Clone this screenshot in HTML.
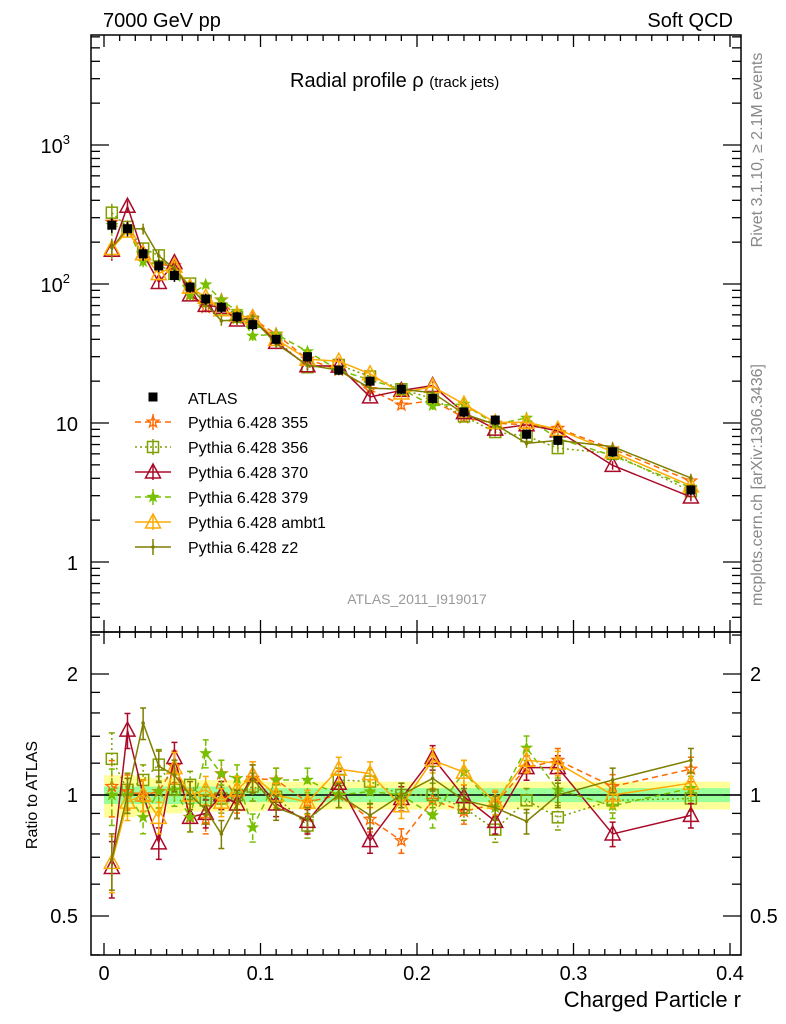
<!DOCTYPE html>
<html><head><meta charset="utf-8"><style>
html,body{margin:0;padding:0;background:#fff;}
svg{display:block;font-family:"Liberation Sans",sans-serif;}
</style></head><body>
<svg id="chart" width="786" height="1024" viewBox="0 0 786 1024" xmlns="http://www.w3.org/2000/svg"></svg>
<script>
const rValues=[0.005,0.015,0.025,0.035,0.045,0.055,0.065,0.075,0.085,0.095,0.11,0.13,0.15,0.17,0.19,0.21,0.23,0.25,0.27,0.29,0.325,0.375];
const atlasValues=[265,250,165,135,115,95,78,68,58,51,40,30,24,20,17.5,15,12,10.5,8.3,7.5,6.2,3.3];
const atlasStatErr=[0.05,0.05,0.05,0.05,0.05,0.05,0.05,0.05,0.04,0.04,0.04,0.04,0.04,0.04,0.04,0.04,0.04,0.04,0.04,0.04,0.04,0.04];
const atlasTotErr=[0.12,0.12,0.11,0.1,0.1,0.09,0.09,0.09,0.09,0.09,0.08,0.08,0.08,0.08,0.08,0.08,0.08,0.08,0.08,0.08,0.08,0.08];
const ratio355=[1.05,1.02,1.0,1.02,1.18,0.88,0.87,1.13,0.98,1.1,1.09,0.96,1.0,0.87,0.77,0.97,0.91,0.95,1.17,1.22,1.05,1.16];
const ratio356=[1.23,1.03,1.09,1.19,1.03,1.06,0.97,0.98,1.0,1.05,0.99,0.84,1.09,1.08,1.0,1.0,0.93,0.82,0.97,0.88,0.97,0.98];
const ratio370=[0.66,1.45,1.0,0.76,1.24,0.88,0.9,1.0,0.95,1.12,0.95,0.86,1.07,0.77,0.98,1.24,0.99,0.86,1.17,1.17,0.8,0.89];
const ratio379=[1.0,1.0,0.88,1.02,1.03,0.88,1.27,1.13,1.1,0.83,1.09,1.09,1.0,1.02,1.0,0.89,1.14,0.93,1.31,1.03,0.94,1.04];
const ratioAmbt1=[0.68,0.96,1.0,0.88,1.17,1.0,1.03,0.96,1.03,1.12,1.0,0.96,1.16,1.13,0.94,1.22,1.14,0.96,1.22,1.2,1.0,1.07];
const ratioZ2=[0.69,1.0,1.51,1.18,1.12,1.0,0.92,0.8,0.95,1.1,0.93,0.87,1.0,0.89,1.0,1.1,0.97,0.93,0.86,1.0,1.09,1.22];
const mcRelErr=[0.16,0.1,0.09,0.09,0.09,0.08,0.08,0.08,0.08,0.08,0.07,0.07,0.07,0.07,0.07,0.07,0.07,0.07,0.07,0.07,0.07,0.07];
const seriesNames=["Pythia 6.428 355","Pythia 6.428 356","Pythia 6.428 370","Pythia 6.428 379","Pythia 6.428 ambt1","Pythia 6.428 z2"];
const xTicks=[0,0.1,0.2,0.3,0.4];
const xTickLabels=["0","0.1","0.2","0.3","0.4"];
const yTickExps=[0,1,2,3];
const ratioTicks=[0.5,1,2];

const NS="http://www.w3.org/2000/svg";
const svg=document.getElementById('chart');
const L=91,R=741,T=35,MB=632,RB=955;
function X(v){return 104+v*1565;}
function YM(v){return 562-Math.log10(v)*139;}
function YR(v){return 795-Math.log2(v)*121;}
function el(tag,attrs,parent){const e=document.createElementNS(NS,tag);for(const k in attrs)e.setAttribute(k,attrs[k]);(parent||svg).appendChild(e);return e;}
function txt(x,y,s,size,anchor,fill,parent){const t=el('text',{x:x,y:y,'font-size':size,'text-anchor':anchor||'start',fill:fill||'#000'},parent);t.textContent=s;return t;}

const styles=[
 {c:'#ff6a00',dash:'6,4',m:'star',fill:'none',r:6},
 {c:'#7f9f00',dash:'2,3',m:'square',fill:'none'},
 {c:'#aa0a28',dash:'',m:'tri',fill:'none'},
 {c:'#77c000',dash:'6,4',m:'star',fill:'#77c000',r:5},
 {c:'#ffaa00',dash:'',m:'tri',fill:'none'},
 {c:'#7f7f00',dash:'',m:'dot',fill:'#7f7f00'}];
const ratios=[ratio355,ratio356,ratio370,ratio379,ratioAmbt1,ratioZ2];

function marker(g,type,x,y,st){
  if(type==='star'){let p=[];const R0=st.r||6;for(let i=0;i<10;i++){const a=-Math.PI/2+i*Math.PI/5,r=i%2?R0*0.42:R0;p.push((x+r*Math.cos(a)).toFixed(1)+','+(y+r*Math.sin(a)).toFixed(1));}
    el('polygon',{points:p.join(' '),fill:st.fill,stroke:st.c,'stroke-width':1.3},g);}
  else if(type==='square') el('rect',{x:x-5.5,y:y-5.5,width:11,height:11,fill:'none',stroke:st.c,'stroke-width':1.5},g);
  else if(type==='tri') el('polygon',{points:`${x},${y-8} ${x-7.5},${y+6} ${x+7.5},${y+6}`,fill:'none',stroke:st.c,'stroke-width':1.5},g);
  else if(type==='dot') el('circle',{cx:x,cy:y,r:1.8,fill:st.c},g);
  else if(type==='atlas') el('rect',{x:x-4.5,y:y-4.5,width:9,height:9,fill:'#000'},g);
}

const defs=el('defs',{});
const cm=el('clipPath',{id:'cm'},defs);el('rect',{x:L,y:T,width:R-L,height:MB-T},cm);
const cr=el('clipPath',{id:'cr'},defs);el('rect',{x:L,y:MB,width:R-L,height:RB-MB},cr);

const bands=el('g',{'clip-path':'url(#cr)'});
function bandPath(err,col){let top=[],bot=[];rValues.forEach((r,i)=>{const x0=i===0?X(0):X((rValues[i-1]+r)/2),x1=i===rValues.length-1?X(0.4):X((r+rValues[i+1])/2);
  top.push(`${x0},${YR(1+err[i])} ${x1},${YR(1+err[i])}`);bot.unshift(`${x1},${YR(1-err[i])} ${x0},${YR(1-err[i])}`);});
  el('polygon',{points:top.join(' ')+' '+bot.join(' '),fill:col},bands);}
bandPath(atlasTotErr,'#ffff99');bandPath(atlasStatErr,'#99ff99');
el('line',{x1:L,x2:R,y1:YR(1),y2:YR(1),stroke:'#000','stroke-width':1.5,});

ratios.forEach((rat,si)=>{
  const st=styles[si];
  const gm=el('g',{'clip-path':'url(#cm)'});
  
  const gr=el('g',{'clip-path':'url(#cr)'});
  
  const pm=rValues.map((r,i)=>X(r)+','+YM(atlasValues[i]*rat[i])).join(' ');
  const pr=rValues.map((r,i)=>X(r)+','+YR(rat[i])).join(' ');
  el('polyline',{points:pm,fill:'none',stroke:st.c,'stroke-width':1.5,'stroke-dasharray':st.dash},gm);
  el('polyline',{points:pr,fill:'none',stroke:st.c,'stroke-width':1.5,'stroke-dasharray':st.dash},gr);
  rValues.forEach((r,i)=>{
    const v=atlasValues[i]*rat[i],e=mcRelErr[i],x=X(r);
    el('line',{x1:x,x2:x,y1:YM(v*(1+e)),y2:YM(v*(1-e)),stroke:st.c,'stroke-width':1.5},gm);
    el('line',{x1:x,x2:x,y1:YR(rat[i]*(1+e)),y2:YR(rat[i]*(1-e)),stroke:st.c,'stroke-width':1.5,'stroke-dasharray':st.dash},gr);
    [[YR(rat[i]*(1+e))],[YR(rat[i]*(1-e))]].forEach(y=>el('line',{x1:x-3,x2:x+3,y1:y,y2:y,stroke:st.c,'stroke-width':1.5},gr));
    marker(gm,st.m,x,YM(v),st);marker(gr,st.m,x,YR(rat[i]),st);
  });
});
const ga=el('g',{'clip-path':'url(#cm)'});
rValues.forEach((r,i)=>{const x=X(r),v=atlasValues[i];
  el('line',{x1:x,x2:x,y1:YM(v*(1+atlasTotErr[i])),y2:YM(v*(1-atlasTotErr[i])),stroke:'#000','stroke-width':1.5},ga);
  marker(ga,'atlas',x,YM(v));});

el('rect',{x:L,y:T,width:R-L,height:MB-T,fill:'none',stroke:'#000','stroke-width':1.5,});
el('rect',{x:L,y:MB,width:R-L,height:RB-MB,fill:'none',stroke:'#000','stroke-width':1.5,});

const ax=el('g',{stroke:'#000','stroke-width':1.3,});
xTicks.forEach((v,i)=>{const x=X(v);
  [[MB,MB-12],[T,T+12],[RB,RB-12],[MB,MB+12]].forEach(a=>el('line',{x1:x,x2:x,y1:a[0],y2:a[1]},ax));
  const t=txt(x,980,xTickLabels[i],20,'middle');});
for(let v=0.01;v<0.4;v+=0.01){const x=X(v);if(Math.abs(v*10-Math.round(v*10))<1e-6)continue;
  [[MB,MB-6],[T,T+6],[RB,RB-6],[MB,MB+6]].forEach(a=>el('line',{x1:x,x2:x,y1:a[0],y2:a[1]},ax));}
for(let d=-1;d<4;d++){for(let m=1;m<10;m++){const y=YM(m*Math.pow(10,d));if(y<T||y>MB)continue;const len=m===1?18:9;
  el('line',{x1:L,x2:L+len,y1:y,y2:y},ax);el('line',{x1:R,x2:R-len,y1:y,y2:y},ax);}}
const yl=["1","10","10","10"];
yTickExps.forEach(e=>{const y=YM(Math.pow(10,e));const t=txt(e>=2?70:78,y+8,yl[e],20,'end');
  
  if(e>=2){const s=el('tspan',{'font-size':13,dy:-9},t);s.textContent=String(e);}});
[0.4,0.5,0.6,0.7,0.8,0.9,1,1.2,1.4,1.6,1.8,2,2.5].forEach(v=>{const y=YR(v);if(y<MB||y>RB)return;const len=(v===0.5||v===1||v===2)?18:9;
  el('line',{x1:L,x2:L+len,y1:y,y2:y},ax);el('line',{x1:R,x2:R-len,y1:y,y2:y},ax);});
ratioTicks.forEach(v=>{const y=YR(v)+7;const s=String(v);
  const a=txt(78,y,s,20,'end');
  const b=txt(750,y,s,20,'start');});

const lg=el('g',{});
marker(lg,'atlas',153,397);txt(188,404,'ATLAS',16,'start','#000',lg);
seriesNames.forEach((n,i)=>{const y=422+i*25,st=styles[i];
  const e=el('g',{},lg);
  el('line',{x1:135,x2:171,y1:y,y2:y,stroke:st.c,'stroke-width':1.5,'stroke-dasharray':st.dash},e);
  el('line',{x1:153,x2:153,y1:y-8,y2:y+8,stroke:st.c,'stroke-width':1.5},e);
  marker(e,st.m,153,y,st);txt(188,y+6,n,16,'start','#000',e);});

let t;
t=txt(103,27,'7000 GeV pp',20,'start');
t=txt(733,27,'Soft QCD',20,'end');
t=txt(290,87,'Radial profile ',20,'start');
const tp=el('tspan',{'font-size':20},t);tp.textContent='ρ ';const tp2=el('tspan',{'font-size':15},t);tp2.textContent='(track jets)';
t=txt(417,604,'ATLAS_2011_I919017',14,'middle','#999');
t=txt(741,1007,'Charged Particle r',22,'end');
t=txt(0,0,'Ratio to ATLAS',16,'middle');t.setAttribute('transform','translate(37,795) rotate(-90)');
t=txt(0,0,'Rivet 3.1.10, ≥ 2.1M events',16,'middle','#888');t.setAttribute('transform','translate(762,150) rotate(-90)');
t=txt(0,0,'mcplots.cern.ch [arXiv:1306.3436]',16,'middle','#888');t.setAttribute('transform','translate(762,485) rotate(-90)');
</script>
</body></html>
